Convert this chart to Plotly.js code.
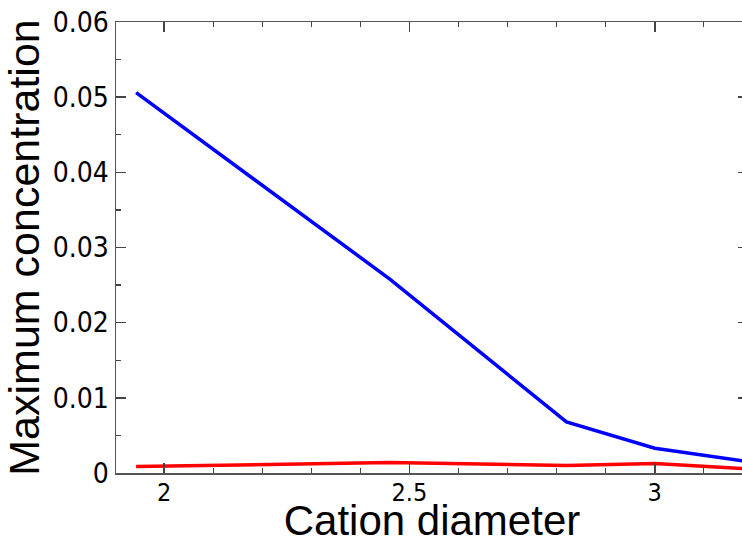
<!DOCTYPE html>
<html>
<head>
<meta charset="utf-8">
<script src="https://cdn.plot.ly/plotly-3.0.1.min.js"></script>
<style>
html,body{margin:0;padding:0;overflow:hidden;background:#fff;width:742px;height:544px;}
#chart{width:750px;height:544px;}
</style>
</head>
<body>
<div id="chart"></div>
<script>
const cationDiameter = [1.943, 2.46, 2.82, 3.0, 3.18];
const blueSeries = [0.0506, 0.0258, 0.0068, 0.0033, 0.0016];
const redSeries = [0.00085, 0.0014, 0.0010, 0.00125, 0.0006];
const xTickVals = [2, 2.5, 3];
const xTickText = ['2', '2.5', '3'];
const yTickVals = [0, 0.01, 0.02, 0.03, 0.04, 0.05, 0.06];
const yTickText = ['0', '0.01', '0.02', '0.03', '0.04', '0.05', '0.06'];

const traces = [
  {x: cationDiameter, y: blueSeries, mode: 'lines', line: {color: '#0000ff', width: 3.5}, hoverinfo: 'x+y', showlegend: false},
  {x: cationDiameter, y: redSeries, mode: 'lines', line: {color: '#ff0000', width: 3.5}, hoverinfo: 'x+y', showlegend: false}
];

const fontFam = 'Liberation Sans, Arial, sans-serif';
const tickFam = 'Liberation Sans Narrow, DejaVu Sans Condensed, Liberation Sans, sans-serif';
const layout = {
  width: 750, height: 544,
  margin: {l: 116, r: 2, t: 22, b: 71},
  paper_bgcolor: '#fff', plot_bgcolor: '#fff',
  font: {family: fontFam, color: '#000'},
  xaxis: {
    range: [1.902, 3.19],
    tickvals: xTickVals, ticktext: xTickText,
    ticks: 'inside', ticklen: 10, tickwidth: 1.5, tickcolor: '#444',
    minor: {dtick: 0.1, tick0: 0, ticks: 'inside', ticklen: 5, tickwidth: 1.2, tickcolor: '#444', showgrid: false},
    showline: true, linecolor: '#555', linewidth: 1.5, mirror: 'ticks',
    showgrid: false, zeroline: false,
    tickfont: {size: 25, family: tickFam},
    ticklabelstandoff: -4,
    title: {text: 'Cation diameter', font: {size: 42, family: fontFam}, standoff: 6}
  },
  yaxis: {
    range: [0, 0.06],
    tickvals: yTickVals, ticktext: yTickText,
    ticks: 'inside', ticklen: 10, tickwidth: 1.5, tickcolor: '#444',
    minor: {dtick: 0.005, tick0: 0, ticks: 'inside', ticklen: 5, tickwidth: 1.2, tickcolor: '#444', showgrid: false},
    showline: true, linecolor: '#555', linewidth: 1.5, mirror: 'ticks',
    showgrid: false, zeroline: false,
    tickfont: {size: 28, family: tickFam},
    title: {text: 'Maximum concentration', font: {size: 43, family: fontFam}, standoff: 2}
  }
};
Plotly.newPlot('chart', traces, layout, {displayModeBar: false, staticPlot: true});
</script>
</body>
</html>
